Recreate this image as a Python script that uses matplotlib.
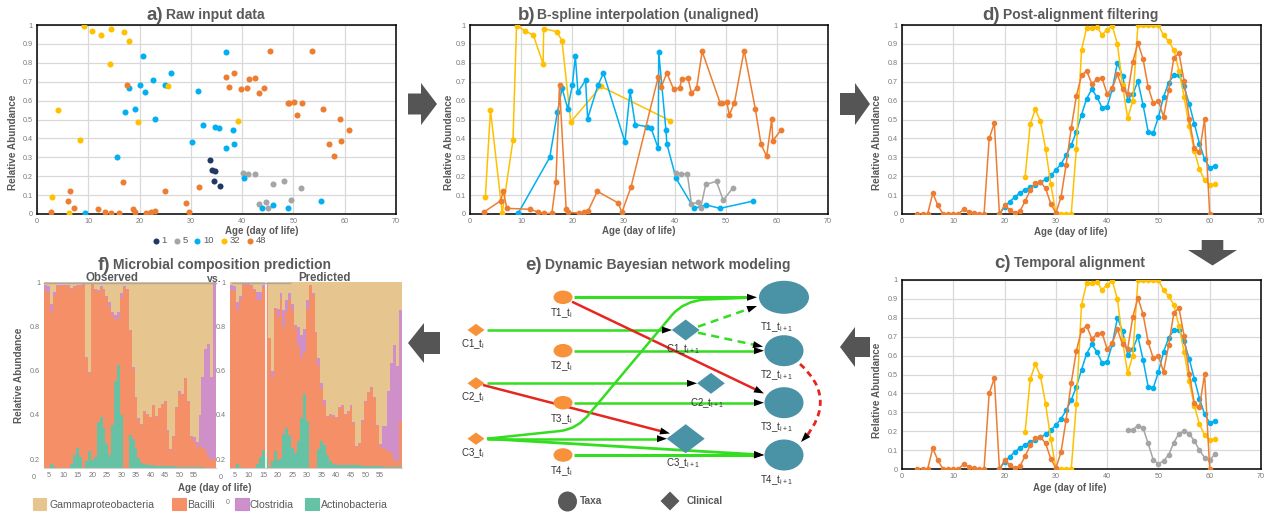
import numpy as np
import matplotlib
matplotlib.use("Agg")
import matplotlib.pyplot as plt
from matplotlib.patches import Ellipse, Polygon, Rectangle, PathPatch
from matplotlib.path import Path

plt.rcParams['font.family'] = ['Liberation Sans', 'DejaVu Sans']
plt.rcParams['mathtext.fontset'] = 'custom'
plt.rcParams['mathtext.rm'] = 'Liberation Sans'
plt.rcParams['mathtext.it'] = 'Liberation Sans'

# ------------------------------------------------------------------ data
taxa_ids = ['1', '5', '10', '32', '48']
taxa_colors = ['#1F3864', '#A5A5A5', '#00B0F0', '#FFC000', '#ED7D31']

raw_day_1 = [33.8, 34.2, 34.7, 34.6, 35.7]
raw_val_1 = [0.287, 0.232, 0.228, 0.173, 0.148]
raw_day_5 = [40.2, 41.2, 42.5, 43.3, 44.6, 45.1, 46.1, 48.2, 49.5, 51.4]
raw_val_5 = [0.218, 0.213, 0.213, 0.053, 0.062, 0.033, 0.157, 0.172, 0.073, 0.138]
raw_day_10 = [9.4, 15.6, 17.1, 18.0, 19.1, 20.0, 20.6, 21.1, 22.6, 23.0, 25.0, 26.1,
              30.3, 31.3, 32.3, 34.7, 35.4, 36.8, 36.9, 38.3, 38.5, 40.3, 43.8, 46.1,
              48.9, 55.3]
raw_val_10 = [0.003, 0.30, 0.54, 0.665, 0.558, 0.68, 0.835, 0.645, 0.708, 0.505, 0.68,
              0.745, 0.38, 0.65, 0.473, 0.462, 0.455, 0.348, 0.858, 0.447, 0.37, 0.188,
              0.03, 0.048, 0.03, 0.068]
raw_day_32 = [3.0, 4.0, 6.3, 8.4, 9.1, 10.8, 12.4, 14.3, 14.4, 17.0, 18.0, 19.7, 25.6, 39.2]
raw_val_32 = [0.09, 0.55, 0.005, 0.39, 0.995, 0.97, 0.945, 0.795, 0.98, 0.965, 0.915,
              0.487, 0.675, 0.493]
raw_day_48 = [2.7, 6.0, 6.5, 7.2, 11.8, 13.3, 14.5, 16.0, 16.8, 17.5, 18.8, 19.2, 21.3,
              22.2, 23.1, 24.9, 29.0, 29.7, 31.5, 36.8, 37.4, 38.5, 39.8, 41.0, 41.4,
              42.6, 43.3, 44.3, 45.4, 48.9, 49.2, 50.2, 50.7, 51.7, 53.6, 55.8, 56.9,
              58.0, 59.0, 59.2, 60.9]
raw_val_48 = [0.01, 0.07, 0.122, 0.03, 0.025, 0.01, 0.003, 0.003, 0.168, 0.683, 0.025,
              0.008, 0.005, 0.008, 0.017, 0.12, 0.058, 0.008, 0.145, 0.725, 0.672, 0.747,
              0.66, 0.668, 0.713, 0.72, 0.64, 0.665, 0.86, 0.588, 0.585, 0.593, 0.525,
              0.588, 0.865, 0.555, 0.37, 0.305, 0.502, 0.388, 0.447]

# aligned series (panels c, d)
aligned_day_48 = list(range(3, 61))
aligned_val_48 = [0, 0, 0, 0.11, 0.045, 0, 0, 0, 0, 0.025, 0.012, 0.003, 0, 0,
                  0.40, 0.48, 0, 0.045, 0.023, 0.003, 0.015, 0.068, 0.125, 0.163,
                  0.17, 0.135, 0.055, 0.005, 0.088, 0.26, 0.455, 0.625, 0.733, 0.758,
                  0.69, 0.712, 0.72, 0.635, 0.665, 0.74, 0.66, 0.635, 0.805, 0.905,
                  0.82, 0.672, 0.585, 0.598, 0.515, 0.655, 0.825, 0.852, 0.705, 0.505,
                  0.35, 0.328, 0.502, 0.0]
aligned_day_10 = list(range(19, 62))
aligned_val_10 = [0.0, 0.038, 0.065, 0.09, 0.112, 0.128, 0.143, 0.155, 0.168, 0.183,
                  0.205, 0.232, 0.265, 0.31, 0.365, 0.435, 0.525, 0.61, 0.66, 0.62,
                  0.563, 0.567, 0.66, 0.80, 0.73, 0.605, 0.635, 0.702, 0.578, 0.435,
                  0.43, 0.513, 0.62, 0.695, 0.733, 0.737, 0.675, 0.583, 0.477, 0.373,
                  0.29, 0.245, 0.255]
aligned_day_32 = list(range(24, 62))
aligned_val_32 = [0.195, 0.475, 0.555, 0.49, 0.345, 0.16, 0.005, 0, 0, 0,
                  0.345, 0.868, 0.985, 0.985, 0.99, 0.948, 0.975, 0.995, 0.90, 0.68,
                  0.507, 0.60, 1.0, 1.0, 1.0, 1.0, 1.0, 0.945, 0.915, 0.868,
                  0.758, 0.62, 0.463, 0.335, 0.237, 0.18, 0.155, 0.158]
aligned_day_5 = list(range(44, 62))
aligned_val_5 = [0.207, 0.208, 0.23, 0.217, 0.135, 0.048, 0.028, 0.042, 0.075, 0.14,
                 0.187, 0.2, 0.187, 0.148, 0.1, 0.06, 0.045, 0.08]

# composition (panel f), cumulative tops per day
comp_days = list(range(4, 63))
class_names = ['Gammaproteobacteria', 'Bacilli', 'Clostridia', 'Actinobacteria']
class_colors = ['#E6C58F', '#F58F68', '#CF8FC9', '#66C2A5']
obs_actino_top = [0.16, 0.16, 0.178, 0.167, 0.16, 0.16, 0.16, 0.16, 0.16, 0.18,
                  0.22, 0.25, 0.21, 0.16, 0.194, 0.235, 0.197, 0.21, 0.37, 0.39,
                  0.34, 0.27, 0.22, 0.355, 0.554, 0.624, 0.40, 0.16, 0.16, 0.31,
                  0.29, 0.25, 0.205, 0.182, 0.178, 0.175, 0.173, 0.172, 0.171, 0.17,
                  0.17, 0.17, 0.17, 0.168, 0.168, 0.167, 0.167, 0.166, 0.166, 0.165,
                  0.165, 0.164, 0.164, 0.163, 0.163, 0.162, 0.162, 0.161, 0.161]
obs_bacilli_top = [0.965, 0.95, 0.864, 0.94, 0.985, 0.985, 0.985, 0.985, 0.985, 0.97,
                   0.98, 0.985, 0.985, 0.99, 0.657, 0.59, 0.99, 0.965, 0.955, 0.975,
                   0.96, 0.935, 0.89, 0.85, 0.83, 0.84, 0.93, 0.975, 0.965, 0.78,
                   0.61, 0.476, 0.378, 0.356, 0.415, 0.40, 0.39, 0.44, 0.393, 0.43,
                   0.446, 0.46, 0.325, 0.242, 0.30, 0.43, 0.50, 0.49, 0.563, 0.46,
                   0.30, 0.28, 0.257, 0.265, 0.25, 0.242, 0.21, 0.197, 0.20]
obs_clostridia_top = [0.99, 0.985, 0.90, 0.955, 0.99, 0.99, 0.99, 0.99, 0.99, 0.975,
                      0.985, 0.99, 0.99, 0.993, 0.66, 0.593, 0.993, 0.968, 0.965, 0.985,
                      0.968, 0.94, 0.91, 0.865, 0.85, 0.865, 0.95, 0.985, 0.97, 0.785,
                      0.615, 0.48, 0.385, 0.36, 0.418, 0.403, 0.393, 0.445, 0.396, 0.433,
                      0.45, 0.463, 0.33, 0.245, 0.305, 0.438, 0.507, 0.495, 0.566, 0.463,
                      0.305, 0.30, 0.28, 0.40, 0.574, 0.70, 0.72, 0.574, 1.0]
pred_actino_top = [0.16, 0.16, 0.178, 0.167, 0.16, 0.16, 0.16, 0.16, 0.16, 0.18,
                   0.21, 0.244, 0.21, 0.167, 0.19, 0.235, 0.197, 0.205, 0.313, 0.34,
                   0.31, 0.25, 0.227, 0.283, 0.385, 0.494, 0.375, 0.16, 0.16, 0.16,
                   0.247, 0.283, 0.265, 0.22, 0.19, 0.18, 0.175, 0.172, 0.172, 0.172,
                   0.172, 0.172, 0.172, 0.172, 0.172, 0.168, 0.168, 0.168, 0.168, 0.168,
                   0.168, 0.168, 0.165, 0.165, 0.165, 0.165, 0.165, 0.165, 0.165]
pred_bacilli_top = [0.965, 0.96, 0.875, 0.92, 0.988, 0.988, 0.988, 0.985, 0.965, 0.92,
                    0.92, 0.973, 0.99, 0.747, 0.574, 0.88, 0.845, 0.928, 0.80, 0.867,
                    0.92, 0.875, 0.80, 0.71, 0.657, 0.687, 0.88, 0.988, 0.943, 0.77,
                    0.62, 0.52, 0.446, 0.39, 0.40, 0.393, 0.385, 0.43, 0.438, 0.40,
                    0.415, 0.438, 0.363, 0.257, 0.27, 0.37, 0.46, 0.50, 0.52, 0.476,
                    0.35, 0.257, 0.25, 0.242, 0.235, 0.227, 0.197, 0.19, 0.375]
pred_clostridia_top = [0.99, 0.985, 0.91, 0.94, 0.992, 0.992, 0.992, 0.99, 0.97, 0.955,
                       0.958, 0.99, 0.993, 0.75, 0.60, 0.885, 0.88, 0.95, 0.875, 0.92,
                       0.95, 0.90, 0.805, 0.80, 0.762, 0.79, 0.92, 0.99, 0.95, 0.775,
                       0.657, 0.545, 0.47, 0.395, 0.405, 0.398, 0.39, 0.435, 0.446, 0.405,
                       0.42, 0.443, 0.368, 0.262, 0.275, 0.378, 0.465, 0.505, 0.525, 0.48,
                       0.355, 0.27, 0.348, 0.348, 0.51, 0.634, 0.717, 0.62, 0.875]

# ------------------------------------------------------------------ figure
W, H = 1274, 520
fig = plt.figure(figsize=(W / 100, H / 100), dpi=100)
GRAY = '#595959'
TICK = '#7A7A7A'


def R(l, t, r, b):
    return [l / W, 1 - b / H, (r - l) / W, (b - t) / H]


def style_line_ax(ax):
    ax.set_xlim(0, 70)
    ax.set_ylim(0, 1)
    ax.set_xticks(range(0, 71, 10))
    yt = np.round(np.arange(0, 1.01, 0.1), 1)
    ax.set_yticks(yt)
    ax.set_yticklabels([f'{v:g}' for v in yt])
    ax.grid(True, color='#D9D9D9', lw=0.9)
    ax.set_axisbelow(True)
    for s in ax.spines.values():
        s.set_color('black')
        s.set_linewidth(1.1)
    ax.tick_params(length=0, labelsize=5.2, colors=TICK, pad=3)


def title(xl, xr, y, letter, rest):
    fig.text(xl / W, 1 - y / H, letter, ha='right', va='center', fontsize=13.5,
             fontweight='bold', color=GRAY)
    fig.text(xr / W, 1 - y / H, rest, ha='left', va='center', fontsize=10,
             fontweight='bold', color=GRAY)


def axis_labels(xc, yx, yc_x, yc_y):
    fig.text(xc / W, 1 - yx / H, 'Age (day of life)', ha='center', va='center',
             fontsize=7, fontweight='bold', color=GRAY)
    fig.text(yc_x / W, 1 - yc_y / H, 'Relative Abundance', ha='center', va='center',
             rotation=90, fontsize=7.2, fontweight='bold', color=GRAY)


# ---- panel a
axa = fig.add_axes(R(37, 25, 396, 214))
style_line_ax(axa)
raw_sets = [(raw_day_1, raw_val_1), (raw_day_5, raw_val_5), (raw_day_10, raw_val_10),
            (raw_day_32, raw_val_32), (raw_day_48, raw_val_48)]
handles = []
for (xs, ys), c, lab in zip(raw_sets, taxa_colors, taxa_ids):
    h = axa.scatter(xs, ys, s=19, color=c, linewidths=0, zorder=3, label=lab)
    handles.append(h)
leg = axa.legend(handles=handles, ncol=5, loc='center',
                 bbox_to_anchor=(208 / W, 1 - 240.7 / H), bbox_transform=fig.transFigure,
                 frameon=False, fontsize=6.8, handletextpad=0.0, columnspacing=0.45,
                 borderpad=0, handlelength=1.2, markerscale=1.0)
for t in leg.get_texts():
    t.set_color(GRAY)
title(163, 166, 15, 'a)', 'Raw input data')
axis_labels(262, 230.7, 13, 142.5)

# ---- panel b
axb = fig.add_axes(R(470, 25, 828, 214))
style_line_ax(axb)
for idx in [3, 2, 4, 1]:
    xs, ys = raw_sets[idx]
    order = np.argsort(xs, kind='stable')
    axb.plot(np.array(xs)[order], np.array(ys)[order], '-o', color=taxa_colors[idx],
             lw=1.1, ms=3.2, zorder=3)
title(535, 537, 15, 'b)', 'B-spline interpolation (unaligned)')
axis_labels(639, 231, 449, 142)

# ---- panels d and c
aligned_sets = {'48': (aligned_day_48, aligned_val_48), '10': (aligned_day_10, aligned_val_10),
                '32': (aligned_day_32, aligned_val_32), '5': (aligned_day_5, aligned_val_5)}
col = dict(zip(taxa_ids, taxa_colors))

axd = fig.add_axes(R(902, 25, 1261, 214))
style_line_ax(axd)
for k in ['10', '32', '48']:
    xs, ys = aligned_sets[k]
    axd.plot(xs, ys, '-o', color=col[k], lw=1.1, ms=3, zorder=3)
title(1000, 1003, 15, 'd)', 'Post-alignment filtering')
axis_labels(1071, 231.7, 877, 142.5)

axc = fig.add_axes(R(902, 280, 1261, 469))
style_line_ax(axc)
for k in ['5', '10', '32', '48']:
    xs, ys = aligned_sets[k]
    axc.plot(xs, ys, '-o', color=col[k], lw=1.1, ms=3, zorder=3)
title(1011, 1014, 263, 'c)', 'Temporal alignment')
axis_labels(1070, 487.7, 877, 390)


# ---- panel f
def comp_ax(rect, act, bac, clo):
    ax = fig.add_axes(rect)
    d = np.array(comp_days)
    act = np.array(act); bac = np.array(bac); clo = np.array(clo)
    kw = dict(width=1.0, linewidth=0, align='center')
    ax.bar(d, act, color=class_colors[3], **kw)
    ax.bar(d, bac - act, bottom=act, color=class_colors[1], **kw)
    ax.bar(d, clo - bac, bottom=bac, color=class_colors[2], **kw)
    ax.bar(d, 1 - clo, bottom=clo, color=class_colors[0], **kw)
    ax.set_xlim(3.5, 62.5)
    ax.set_ylim(0.159, 1.0)
    ax.set_xticks(range(5, 60, 5))
    ax.set_yticks([0.2, 0.4, 0.6, 0.8, 1.0])
    ax.set_yticklabels(['0.2', '0.4', '0.6', '0.8', '1'])
    for s in ['top', 'right', 'left']:
        ax.spines[s].set_visible(False)
    ax.spines['bottom'].set_color('#D0D0D0')
    ax.tick_params(length=0, labelsize=5.2, colors=TICK, pad=3)
    return ax


axo = comp_ax(R(44.3, 282.3, 216, 468.3), obs_actino_top, obs_bacilli_top, obs_clostridia_top)
axp = comp_ax(R(230, 282.3, 402, 468.3), pred_actino_top, pred_bacilli_top, pred_clostridia_top)
axp.axvline(15.85, color='white', lw=1.2)
title(110, 113, 265, 'f)', 'Microbial composition prediction')

# ------------------------------------------------------------------ overlay (pixel space)
ov = fig.add_axes([0, 0, 1, 1], zorder=10)
ov.set_xlim(0, W)
ov.set_ylim(H, 0)
ov.axis('off')

ov.text(111.7, 277.7, 'Observed', ha='center', va='center', fontsize=8.3, fontweight='bold', color=GRAY)
ov.text(214, 278.5, 'vs.', ha='center', va='center', fontsize=7.6, fontweight='bold', color=GRAY)
ov.text(324.7, 277.7, 'Predicted', ha='center', va='center', fontsize=8.3, fontweight='bold', color=GRAY)
ov.plot([44.3, 216], [282.6, 282.6], color='#A8A8A8', lw=1)
ov.plot([232, 290], [282.6, 282.6], color='#A8A8A8', lw=1)
ov.text(33.3, 477.3, '0', ha='center', va='center', fontsize=5.2, color=TICK)
ov.text(220.3, 477.3, '0', ha='center', va='center', fontsize=5.2, color=TICK)
ov.text(215, 487.7, 'Age (day of life)', ha='center', va='center', fontsize=7,
        fontweight='bold', color=GRAY)
ov.text(19.3, 375.8, 'Relative Abundance', ha='center', va='center', rotation=90,
        fontsize=7.2, fontweight='bold', color=GRAY)

# panel f legend
leg_items = [(32.7, 49.3, 0), (172.3, 187.3, 1), (235, 250, 2), (305, 320.7, 3)]
for px, tx, ci in leg_items:
    ec = '#C58AD8' if ci == 2 else class_colors[ci]
    ov.add_patch(Rectangle((px, 498), 13.5, 11.5, facecolor=class_colors[ci],
                           edgecolor=ec, lw=0.8))
    ov.text(tx, 505, class_names[ci], ha='left', va='center', fontsize=7.6, color=GRAY)
ov.text(227.7, 502.5, '0', ha='center', va='center', fontsize=5, color=TICK)

# block arrows
ARROW = '#555555'


def harrow(x_tail, x_tip, yc, sh, hh, hl):
    s = 1 if x_tip > x_tail else -1
    xb = x_tip - s * hl
    pts = [(x_tail, yc - sh), (xb, yc - sh), (xb, yc - hh), (x_tip, yc),
           (xb, yc + hh), (xb, yc + sh), (x_tail, yc + sh)]
    ov.add_patch(Polygon(pts, closed=True, color=ARROW, lw=0))


def varrow(y_tail, y_tip, xc, sh, hh, hl):
    yb = y_tip - hl
    pts = [(xc - sh, y_tail), (xc - sh, yb), (xc - hh, yb), (xc, y_tip),
           (xc + hh, yb), (xc + sh, yb), (xc + sh, y_tail)]
    ov.add_patch(Polygon(pts, closed=True, color=ARROW, lw=0))


harrow(408, 437, 104, 10.5, 21, 16)
harrow(840, 870, 104, 11, 21, 15)
harrow(870, 840, 347, 10, 20, 15)
harrow(440, 408, 343, 11, 20, 16)
varrow(240, 265.5, 1212.5, 10.8, 24.5, 15.5)

# ---- panel e: network
title(542, 545, 265, 'e)', 'Dynamic Bayesian network modeling')
ORANGE_N = '#F7913A'
TEAL_N = '#4A92A6'
GREEN = '#33DD1F'
RED = '#E62620'

taxa_now = {'T1': (563, 297.3), 'T2': (563, 350.7), 'T3': (563, 402.7), 'T4': (563, 455)}
clin_now = {'C1': (476, 330), 'C2': (476, 383.3), 'C3': (476, 438.7)}
taxa_next = {'T1': (784, 297.3, 50, 33), 'T2': (784, 350.7, 39, 31),
             'T3': (784, 402.7, 39, 31), 'T4': (784, 455, 39, 31)}
clin_next = {'C1': (685.7, 330, 27.7, 21), 'C2': (711, 383.3, 27.7, 21),
             'C3': (685.7, 438.7, 38, 29)}


def arrowhead(tip, frm, length=10, width=7, color='black'):
    tip = np.array(tip, float); frm = np.array(frm, float)
    d = tip - frm
    d = d / np.hypot(*d)
    n = np.array([-d[1], d[0]])
    base = tip - d * length
    ov.add_patch(Polygon([tip, base + n * width / 2, base - n * width / 2],
                         closed=True, color=color, lw=0, zorder=6))
    return base


straight_edges = [((574, 297.3), (757, 297.3), GREEN, 2.2),
                  ((487, 330), (672, 330), GREEN, 1.8),
                  ((574, 350.7), (764, 350.7), GREEN, 1.8),
                  ((487, 383.3), (697, 383.3), GREEN, 1.8),
                  ((574, 402.7), (764, 402.7), GREEN, 1.8),
                  ((487, 438.7), (667, 438.7), GREEN, 1.8),
                  ((487, 438.7), (764, 455), GREEN, 2.0),
                  ((574, 455), (764, 455), GREEN, 2.2),
                  ((572, 301.7), (764, 393.5), RED, 1.8),
                  ((483, 385), (670, 433.5), RED, 1.8)]
for p0, p1, c, lw in straight_edges:
    d = np.array(p1, float) - np.array(p0, float)
    e = np.array(p1) - d / np.hypot(*d) * 6
    ov.plot([p0[0], e[0]], [p0[1], e[1]], color=c, lw=lw, zorder=4, solid_capstyle='butt')
    arrowhead(p1, p0)

for p0, p1 in [((698, 326.7), (757, 306)), ((698, 332.7), (763, 346.7))]:
    d = np.array(p1, float) - np.array(p0, float)
    e = np.array(p1) - d / np.hypot(*d) * 7
    ov.plot([p0[0], e[0]], [p0[1], e[1]], color=GREEN, lw=1.8, zorder=4,
            dashes=(3.2, 2.2))
    arrowhead(p1, p0)

# curved edge C3_t -> T1_t+1
verts = [(487, 438.7), (560, 431), (578, 429), (590, 413), (672, 315), (684, 301),
         (705, 299.5), (751, 297.6)]
codes = [Path.MOVETO, Path.LINETO, Path.CURVE3, Path.CURVE3, Path.LINETO, Path.CURVE3,
         Path.CURVE3, Path.LINETO]
ov.add_patch(PathPatch(Path(verts, codes), facecolor='none', edgecolor=GREEN, lw=1.8, zorder=4))

# curved dashed red T2_t+1 -> T4_t+1
cverts = [(800, 364), (838, 398), (805, 438)]
ov.add_patch(PathPatch(Path(cverts, [Path.MOVETO, Path.CURVE3, Path.CURVE3]), facecolor='none',
                       edgecolor=RED, lw=2.0, ls=(0, (2.2, 1.6)), zorder=4))
arrowhead((801, 442), (812, 430))

# nodes
for k, (x, y) in taxa_now.items():
    ov.add_patch(Ellipse((x, y), 19, 13.5, color=ORANGE_N, zorder=5, lw=0))
for k, (x, y) in clin_now.items():
    ov.add_patch(Polygon([(x - 8.5, y), (x, y - 6.2), (x + 8.5, y), (x, y + 6.2)],
                         closed=True, color=ORANGE_N, zorder=5, lw=0))
for k, (x, y, w, h) in taxa_next.items():
    ov.add_patch(Ellipse((x, y), w, h, color=TEAL_N, zorder=5, lw=0))
for k, (x, y, w, h) in clin_next.items():
    ov.add_patch(Polygon([(x - w / 2, y), (x, y - h / 2), (x + w / 2, y), (x, y + h / 2)],
                         closed=True, color=TEAL_N, zorder=5, lw=0))

LBL = '#333333'
now_labels = {'T1': (561.7, 313.5), 'T2': (561.7, 366.5), 'T3': (561.7, 418.7),
              'T4': (561.7, 471.3), 'C1': (473.3, 344), 'C2': (473.3, 397.3),
              'C3': (473.3, 452.7)}
next_labels = {'T1': (776.7, 327.3), 'T2': (776.7, 375), 'T3': (776.7, 427.3),
               'T4': (776.7, 480), 'C1': (683.3, 348.7), 'C2': (706.7, 403.3),
               'C3': (683.3, 463.3)}
for k, (x, y) in now_labels.items():
    ov.text(x, y, k + r'_t$_{\mathregular{i}}$', ha='center', va='center', fontsize=7,
            color=LBL, zorder=7)
for k, (x, y) in next_labels.items():
    ov.text(x, y, k + r'_t$_{\mathregular{i+1}}$', ha='center', va='center', fontsize=7,
            color=LBL, zorder=7)

# e legend
ov.add_patch(Ellipse((567.5, 501.5), 19, 20, color=GRAY, lw=0))
ov.text(579.5, 500.5, 'Taxa', ha='left', va='center', fontsize=7.3, fontweight='bold', color=GRAY)
ov.add_patch(Polygon([(660.5, 501), (670, 491.5), (679.5, 501), (670, 510.5)], closed=True,
                     color=GRAY, lw=0))
ov.text(686.7, 500.5, 'Clinical', ha='left', va='center', fontsize=7.3, fontweight='bold',
        color=GRAY)

fig.savefig('out.png', dpi=100)
